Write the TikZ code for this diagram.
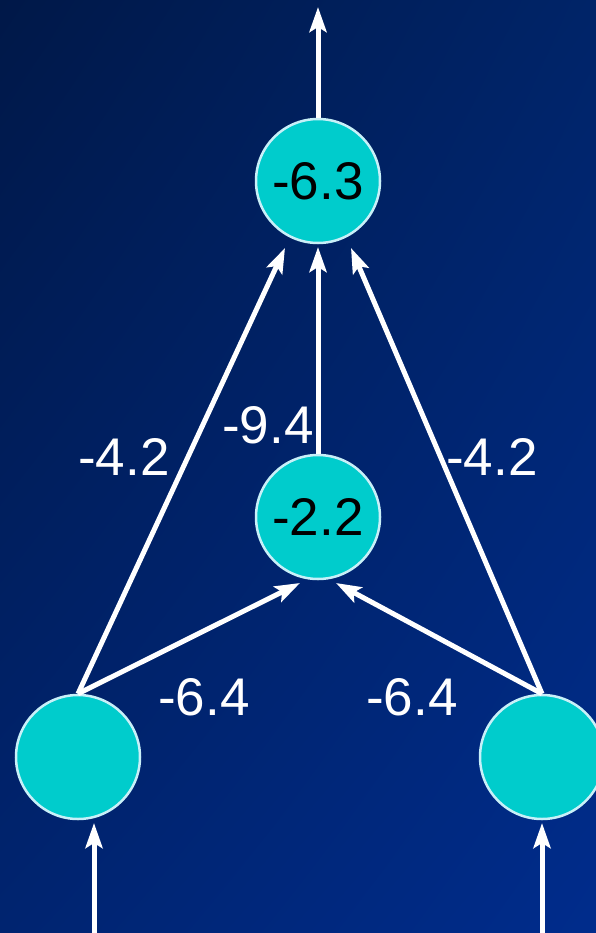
\documentclass[tikz,border=0pt]{standalone}
\usepackage{fontspec}
\setmainfont{Liberation Sans}
\usetikzlibrary{arrows.meta,shadings}
\definecolor{bgTL}{RGB}{0,24,72}
\definecolor{bgTR}{RGB}{0,36,104}
\definecolor{bgBL}{RGB}{0,36,112}
\definecolor{bgBR}{RGB}{0,44,140}
\definecolor{cellfill}{RGB}{0,204,204}
\definecolor{cellrim}{RGB}{200,240,248}
\begin{document}
\begin{tikzpicture}[x=1pt,y=-1pt,
  neuron/.style={circle, fill=cellfill, draw=cellrim, line width=2.5pt,
    minimum size=124pt, inner sep=0pt, text=black, font=\fontsize{53}{60}\selectfont},
  conn/.style={white, line width=5pt, -{Stealth[length=25pt,width=17pt,inset=5pt]}},
  wlab/.style={text=white, inner sep=0pt, font=\fontsize{53}{60}\selectfont}]
\useasboundingbox (0,0) rectangle (596,933);
\clip (0,0) rectangle (596,933);
\shade[upper left=bgTL, upper right=bgTR, lower left=bgBL, lower right=bgBR] (0,0) rectangle (596,933);

\node[neuron] (top) at (318,181) {-6.3};
\node[neuron] (mid) at (318,517) {-2.2};
\node[neuron] (L) at (78,757) {};
\node[neuron] (R) at (542,757) {};

\coordinate (outTop) at (318,7);
\coordinate (topInM) at (318,247);
\coordinate (topInL) at (285,248);
\coordinate (topInR) at (351,248);
\coordinate (midInL) at (300,583);
\coordinate (midInR) at (336,583);
\coordinate (inL) at (94,940);
\coordinate (inLtip) at (94,823);
\coordinate (inR) at (542,940);
\coordinate (inRtip) at (542,823);

\draw[conn] (top.north) -- (outTop);
\draw[conn] (mid.north) -- (topInM);
\draw[conn] (L.north) -- (topInL);
\draw[conn] (R.north) -- (topInR);
\draw[conn] (L.north) -- (midInL);
\draw[conn] (R.north) -- (midInR);
\draw[conn] (inL) -- (inLtip);
\draw[conn] (inR) -- (inRtip);

\node[wlab] (l1) at (124,457) {-4.2};
\node[wlab] (l2) at (268,425) {-9.4};
\node[wlab] (l3) at (492,457) {-4.2};
\node[wlab] (l4) at (204,697) {-6.4};
\node[wlab] (l5) at (412,697) {-6.4};
\end{tikzpicture}
\end{document}
